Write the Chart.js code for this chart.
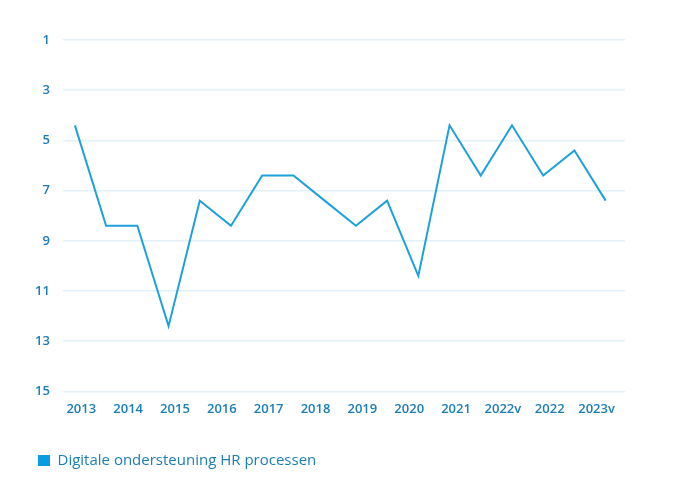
<!DOCTYPE html>
<html>
<head>
<meta charset="utf-8">
<script src="https://cdn.jsdelivr.net/npm/chart.js@4/dist/chart.umd.min.js"></script>
<style>
    html, body { margin: 0; padding: 0; background: #fff; }
    #wrap { width: 678px; height: 491px; position: relative; }
</style>
</head>
<body>
<div id="wrap"><canvas id="hrChart"></canvas></div>
<script>
// axis labels shown under the chart
const yearLabels = ['2013', '2014', '2015', '2016', '2017', '2018', '2019', '2020', '2021', '2022v', '2022', '2023v'];

const rankValues = [4.4, 8.4, 8.4, 12.4, 7.4, 8.4, 6.4, 6.4, 7.4, 8.4, 7.4, 10.4, 4.4, 6.4, 4.4, 6.4, 5.4, 7.4];

const seriesName = 'Digitale ondersteuning HR processen';

const textBlue = '#1b7db6';
const lineBlue = '#1da1dc';

document.addEventListener('DOMContentLoaded', function () {
    const ctx = document.getElementById('hrChart');
    const points = rankValues.map(function (v, i) { return { x: i, y: v }; });

    new Chart(ctx, {
        type: 'line',
        data: {
            labels: yearLabels,
            datasets: [{
                label: seriesName,
                data: points,
                xAxisID: 'xData',
                borderColor: lineBlue,
                backgroundColor: '#0a9be0',
                borderWidth: 2,
                pointRadius: 0,
                tension: 0,
                fill: false
            }]
        },
        options: {
            responsive: true,
            maintainAspectRatio: false,
            animation: false,
            layout: { padding: { top: 40, left: 22, right: 53, bottom: 13 } },
            scales: {
                x: {
                    type: 'category',
                    offset: true,
                    grid: { display: false },
                    border: { display: false },
                    ticks: {
                        color: textBlue,
                        font: { family: 'Open Sans', size: 13, weight: '600' },
                        padding: 2,
                        labelOffset: -5,
                        maxRotation: 0,
                        autoSkip: false
                    },
                    // leave room between the year labels and the legend
                    afterFit: function (scale) { scale.height += 18; }
                },
                xData: {
                    type: 'linear',
                    display: false,
                    min: -0.385,
                    max: 17.62
                },
                y: {
                    reverse: true,
                    min: 1,
                    max: 15,
                    grid: { color: '#e2f1fa', lineWidth: 1.5, drawTicks: false },
                    border: { display: false },
                    ticks: {
                        stepSize: 2,
                        color: textBlue,
                        font: { family: 'Open Sans', size: 13, weight: '600' },
                        padding: 13
                    }
                }
            },
            plugins: {
                legend: {
                    position: 'bottom',
                    align: 'start',
                    labels: {
                        boxWidth: 12,
                        boxHeight: 11,
                        color: textBlue,
                        font: { family: 'Open Sans', size: 15, weight: '500' },
                        padding: 16,
                        generateLabels: function (chart) {
                            return [{
                                text: seriesName,
                                fillStyle: '#0a9be0',
                                strokeStyle: '#0a9be0',
                                lineWidth: 0,
                                fontColor: textBlue,
                                datasetIndex: 0
                            }];
                        }
                    }
                },
                tooltip: { enabled: false }
            }
        }
    });
});
</script>
</body>
</html>
